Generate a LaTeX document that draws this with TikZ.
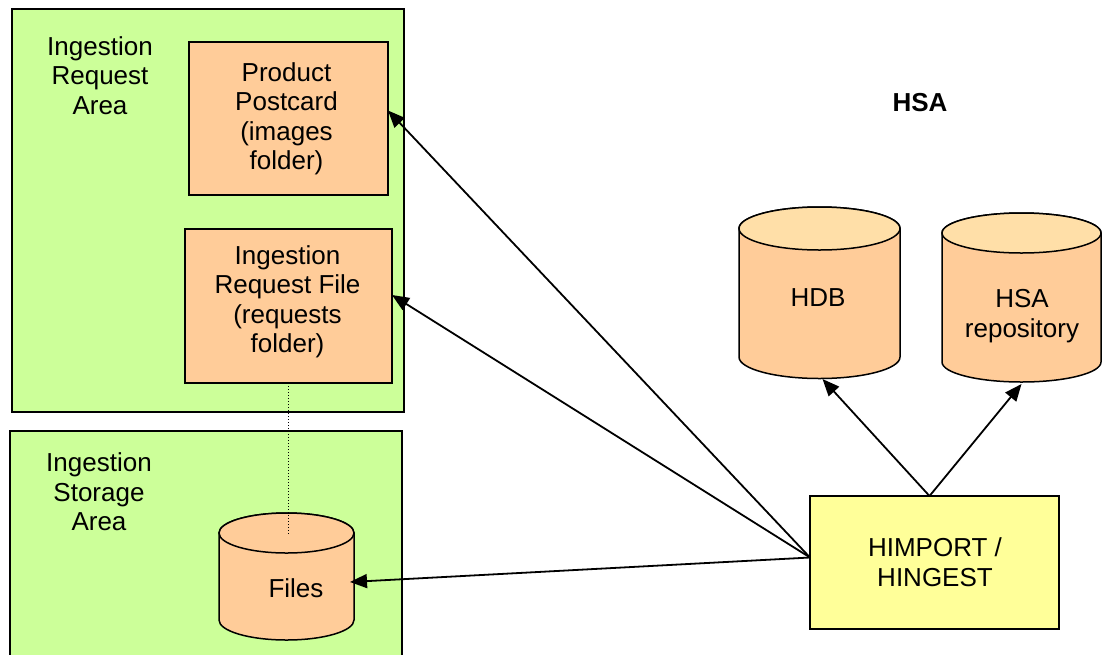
\documentclass[tikz,border=0pt]{standalone}
\usepackage{fontspec}
\setmainfont{Liberation Sans}
\usetikzlibrary{arrows.meta}

\definecolor{areagreen}{HTML}{CCFF99}
\definecolor{boxorange}{HTML}{FFCC99}
\definecolor{drumtop}{HTML}{FFDFA8}
\definecolor{procyellow}{HTML}{FFFF99}

\tikzset{
  area/.style={draw=black, fill=areagreen, line width=1.7pt},
  folderbox/.style={draw=black, fill=boxorange, line width=1.7pt, inner sep=0pt, outer sep=0pt},
  procbox/.style={draw=black, fill=procyellow, line width=1.7pt, inner sep=0pt, outer sep=0pt},
  drumline/.style={draw=black, line width=1.5pt},
  hit/.style={inner sep=0pt, outer sep=0pt},
  lbl/.style={inner sep=0pt, align=center, font=\fontsize{26}{29.5}\selectfont},
  flow/.style={draw=black, line width=1.8pt, -{Triangle[length=17pt,width=14pt]}},
  tether/.style={draw=black, line width=1.4pt, dash pattern=on 1.4pt off 1.6pt},
}

% database drum: centre x, x radius, top-ellipse centre y, bottom-ellipse centre y, y radius, top fill
\newcommand{\drum}[6]{%
  \draw[drumline, fill=boxorange] ({#1-#2},#3) -- ({#1-#2},#4)
    arc[start angle=180, end angle=360, x radius=#2pt, y radius=#5pt]
    -- ({#1+#2},#3)
    arc[start angle=0, end angle=180, x radius=#2pt, y radius=#5pt] -- cycle;
  \draw[drumline, fill=#6] (#1,#3) ellipse [x radius=#2pt, y radius=#5pt];
}

\begin{document}
\begin{tikzpicture}[x=1pt, y=-1pt]
  \useasboundingbox (0,0) rectangle (1102,654);

  % the two areas
  \draw[area] (12,9) rectangle (404,412);
  \draw[area] (10,431) rectangle (402,680);
  \node[lbl] (reqarea) at (100,75.5) {Ingestion\\Request\\Area};
  \node[lbl] (storarea) at (99,492) {Ingestion\\Storage\\Area};

  % folders in the request area
  \node[folderbox, minimum width=199pt, minimum height=153pt] (pp) at (288.5,118.5) {};
  \node[lbl] at (286.5,119) {Product\\Postcard\\(images\\folder)};
  \node[folderbox, minimum width=207pt, minimum height=154pt] (irf) at (288.5,306) {};
  \node[lbl] at (287.5,302) {Ingestion\\Request File\\(requests\\folder)};

  % storage drum
  \drum{286.5}{67.5}{533}{620}{20}{boxorange}
  \node[hit, minimum width=135pt, minimum height=127pt] (files) at (286.5,576.5) {};
  \node[lbl] at (296,588) {Files};
  \coordinate (ftop) at (286.5,534);

  % HSA side
  \node[lbl, font=\fontsize{26}{29.5}\selectfont\bfseries] (hsa) at (920,103) {HSA};
  \drum{819.5}{80.5}{228.5}{357}{21.5}{drumtop}
  \node[hit, minimum width=161pt, minimum height=171pt] (hdb) at (819.5,292.5) {};
  \node[lbl] at (818,298) {HDB};
  \drum{1021.5}{79.5}{233}{362}{20}{drumtop}
  \node[hit, minimum width=159pt, minimum height=169pt] (repo) at (1021.5,297.5) {};
  \node[lbl] at (1022,316) {HSA\\repository};

  % ingestion process
  \node[procbox, minimum width=249pt, minimum height=133pt] (him) at (934.5,562.5) {};
  \node[lbl] at (935,562) {HIMPORT /\\HINGEST};

  % connectors
  \draw[tether] (irf.south) -- (irf.south |- ftop);
  \draw[flow] ([yshift=5pt]him.west) -- ([yshift=8pt]pp.east);
  \draw[flow] ([yshift=5pt]him.west) -- ([yshift=11pt]irf.east);
  \draw[flow] ([yshift=5pt]him.west) -- ([xshift=-4pt,yshift=-5.5pt]files.east);
  \draw[flow] ([xshift=-5pt]him.north) -- ([xshift=3pt,yshift=-1pt]hdb.south);
  \draw[flow] ([xshift=-5pt]him.north) -- ([yshift=-2pt]repo.south);
\end{tikzpicture}
\end{document}
